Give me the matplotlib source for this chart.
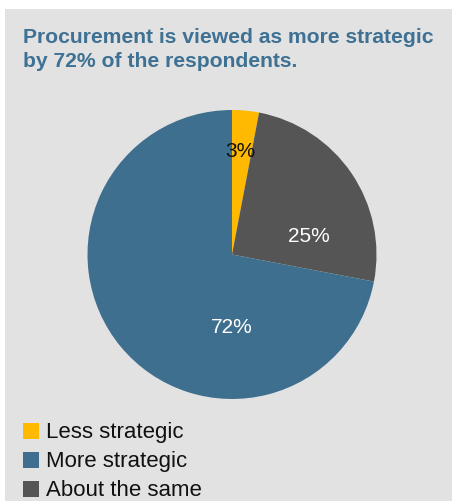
import matplotlib
matplotlib.use("Agg")
import matplotlib.pyplot as plt
from matplotlib.patches import Rectangle

categories = ["Less strategic", "More strategic", "About the same"]
values = [3, 72, 25]
title_lines = ["Procurement is viewed as more strategic", "by 72% of the respondents."]

# drawing order around the pie (clockwise from 12 o'clock)
order = [0, 2, 1]
colors = {"Less strategic": "#FFB900", "More strategic": "#3F6F8E", "About the same": "#555555"}
label_colors = {"Less strategic": "#111111", "More strategic": "white", "About the same": "white"}
# label positions in pie units (center 0,0, radius 1)
label_pos = {"Less strategic": (0.06, 0.72), "About the same": (0.53, 0.13), "More strategic": (0.0, -0.50)}

W, H = 455, 502
fig = plt.figure(figsize=(W / 100, H / 100), dpi=100, facecolor="white")

# gray panel
fig.patches.append(Rectangle((5 / W, 0), (452 - 5) / W, (H - 10) / H,
                             transform=fig.transFigure, facecolor="#E2E2E2",
                             edgecolor="none", zorder=-10))

for k, line in enumerate(title_lines):
    fig.text(23 / W, 1 - (43 + 24 * k) / H, line, ha="left", va="baseline",
             color="#3E7193", fontsize=15.2, fontweight="bold",
             family="Liberation Sans")

cx, cy, r = 232, 255.5, 144.5
ax = fig.add_axes([(cx - r) / W, (H - cy - r) / H, 2 * r / W, 2 * r / H])
ax.set_xlim(-1, 1)
ax.set_ylim(-1, 1)
ax.set_aspect("equal")
ax.axis("off")

names = [categories[i] for i in order]
vals = [values[i] for i in order]
wedges, _ = ax.pie(vals, colors=[colors[n] for n in names], startangle=90,
                   counterclock=False, radius=1, center=(0, 0),
                   wedgeprops=dict(linewidth=0))
ax.set_xlim(-1, 1)
ax.set_ylim(-1, 1)
for n, v in zip(names, vals):
    x, y = label_pos[n]
    ax.text(x, y, f"{v}%", ha="center", va="center", color=label_colors[n],
            fontsize=15, family="Liberation Sans")

# legend rows
for k, name in enumerate(categories):
    yc = 432 + k * 29
    fig.patches.append(Rectangle((23 / W, 1 - (yc + 8) / H), 16 / W, 16 / H,
                                 transform=fig.transFigure,
                                 facecolor=colors[name], edgecolor="none"))
    fig.text(46 / W, 1 - (yc + 1) / H, name, ha="left", va="center",
             fontsize=16, color="#111111", family="Liberation Sans")

fig.savefig("out.png", dpi=100, facecolor="white")
